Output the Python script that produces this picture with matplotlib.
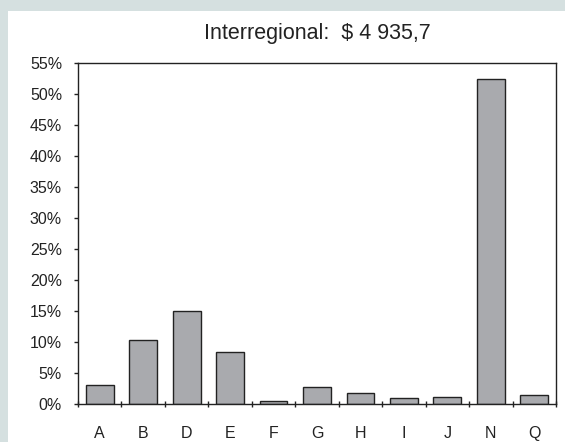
import matplotlib.pyplot as plt
import numpy as np
from matplotlib.patches import Rectangle
from matplotlib.ticker import FixedLocator, FuncFormatter

plt.rcParams["font.family"] = ["Liberation Sans", "DejaVu Sans"]

categories = ["A", "B", "D", "E", "F", "G", "H", "I", "J", "N", "Q"]
shares = [3.1, 10.3, 15.0, 8.4, 0.5, 2.7, 1.8, 0.9, 1.1, 52.5, 1.5]
title = "Interregional:  $ 4 935,7"

fig = plt.figure(figsize=(5.65, 4.42), dpi=100, facecolor="#d5e0e0")
fig.add_artist(Rectangle((8 / 565, 0), 1, 1 - 11 / 442, transform=fig.transFigure,
                         facecolor="white", edgecolor="none", zorder=0))
ax = fig.add_axes([78 / 565, 1 - 404 / 442, (556 - 78) / 565, (404 - 63) / 442])
ax.set_facecolor("white")

x = np.arange(len(categories))
ax.bar(x, shares, width=0.64, color="#a9aaae", edgecolor="#222222", linewidth=1.0, zorder=2)

ax.set_xlim(-0.5, len(categories) - 0.5)
ax.set_ylim(0, 55)
ax.set_yticks(np.arange(0, 56, 5))
ax.yaxis.set_major_formatter(FuncFormatter(lambda v, p: f"{v:.0f}%"))
ax.tick_params(axis="y", direction="out", length=3, width=1, color="#222222",
               labelsize=11.5, pad=8.5, labelcolor="#222222")

ax.set_xticks(x)
ax.set_xticklabels(categories)
ax.tick_params(axis="x", which="major", length=0, labelsize=11.5, pad=15.5, labelcolor="#222222")
ax.xaxis.set_minor_locator(FixedLocator(np.arange(-0.5, len(categories), 1)))
ax.tick_params(axis="x", which="minor", direction="inout", length=5, width=1, color="#222222")

for s in ax.spines.values():
    s.set_color("#222222")
    s.set_linewidth(1.0)

fig.text((78 + 556) / 2 / 565, 1 - 33 / 442, title, ha="center", va="center",
         fontsize=15.5, color="#222222")

fig.savefig("out.png", dpi=100, facecolor=fig.get_facecolor())
